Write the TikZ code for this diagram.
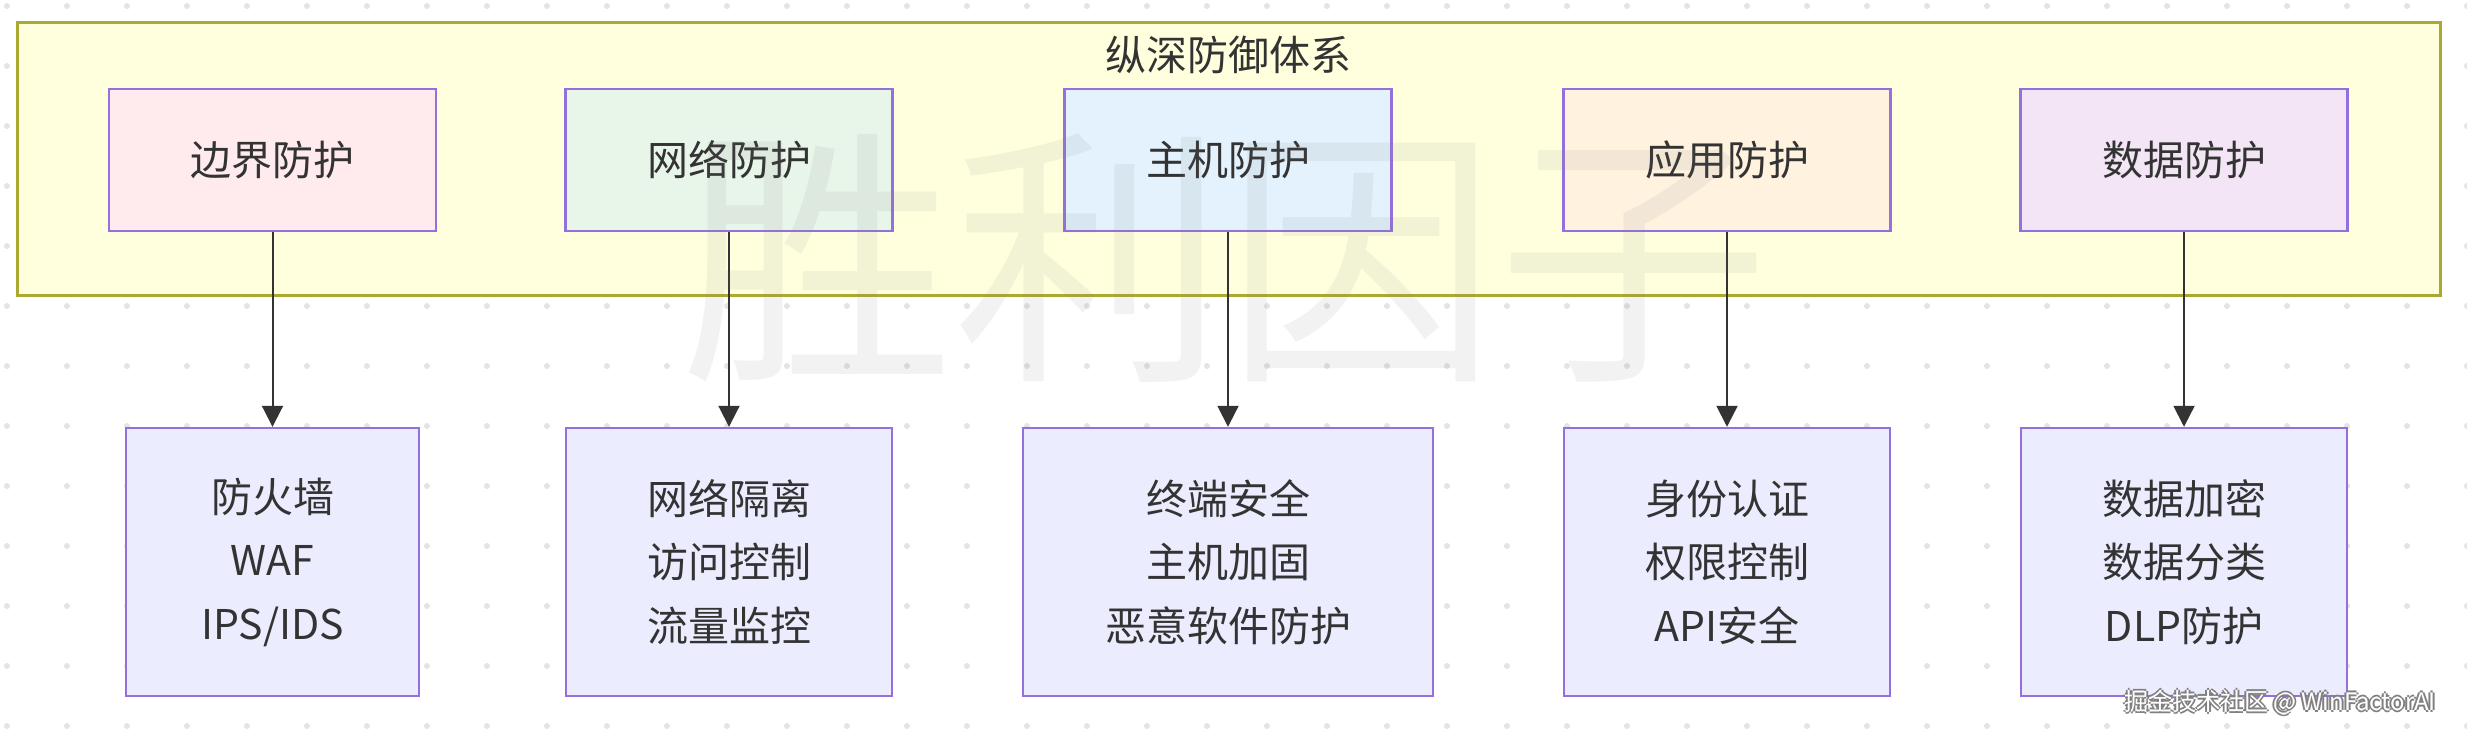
\documentclass[tikz,border=0pt]{standalone}
\usepackage{fontspec}
\setmainfont{Noto Sans CJK SC}
\usetikzlibrary{arrows.meta}
\definecolor{txt}{HTML}{333333}
\definecolor{cfill}{HTML}{FFFFDE}
\definecolor{cdraw}{HTML}{AAAA33}
\definecolor{bdraw}{HTML}{9370DB}
\definecolor{bfill}{HTML}{ECECFF}
\definecolor{fpink}{HTML}{FFEBEE}
\definecolor{fgreen}{HTML}{E8F5E9}
\definecolor{fblue}{HTML}{E3F2FD}
\definecolor{forange}{HTML}{FFF3E0}
\definecolor{fpurple}{HTML}{F3E5F5}
\definecolor{dotc}{HTML}{E4E4E4}
\begin{document}
\begin{tikzpicture}[x=0.5pt,y=-0.5pt,
  every node/.style={font=\fontsize{20.5pt}{31.75pt}\selectfont, text=txt},
  container/.style={draw=cdraw, fill=cfill, line width=1.5pt, minimum width=1211.5pt, minimum height=136.5pt, inner sep=0pt},
  topbox/.style={draw=bdraw, line width=1.2pt, minimum width=163.5pt, minimum height=71pt, inner sep=0pt},
  botbox/.style={draw=bdraw, fill=bfill, line width=1.2pt, minimum height=134pt, inner sep=0pt, align=center},
  conn/.style={draw=txt, line width=1pt, -{Triangle[length=10.5pt,width=10.5pt]}},
  wmark/.style={font=\fontsize{12pt}{12pt}\selectfont, inner sep=0pt}]
\useasboundingbox[fill=white] (0,0) rectangle (2467,737);
% dotted background
\foreach \i in {0,...,41}{
  \foreach \j in {0,...,12}{
    \fill[dotc] (7+60*\i,6+60*\j) circle[radius=1.5pt];
  }
}
% container
\node[container] (sys) at (1228.5,159.5) {};
\node (title) at (1228,55) {纵深防御体系};
% top boxes
\node[topbox, fill=fpink]   (t1) at (272.5,160) {边界防护};
\node[topbox, fill=fgreen]  (t2) at (729,160)   {网络防护};
\node[topbox, fill=fblue]   (t3) at (1228,160)  {主机防护};
\node[topbox, fill=forange] (t4) at (1727,160)  {应用防护};
\node[topbox, fill=fpurple] (t5) at (2184,160)  {数据防护};
% bottom boxes
\node[botbox, minimum width=146.5pt] (b1) at (272.5,562) {防火墙\\WAF\\IPS/IDS};
\node[botbox, minimum width=163pt]   (b2) at (729,562)   {网络隔离\\访问控制\\流量监控};
\node[botbox, minimum width=205pt]   (b3) at (1228,562)  {终端安全\\主机加固\\恶意软件防护};
\node[botbox, minimum width=163pt]   (b4) at (1727,562)  {身份认证\\权限控制\\API安全};
\node[botbox, minimum width=163pt]   (b5) at (2184,562)  {数据加密\\数据分类\\DLP防护};
% connectors
\draw[conn] (t1.south) -- (b1.north);
\draw[conn] (t2.south) -- (b2.north);
\draw[conn] (t3.south) -- (b3.north);
\draw[conn] (t4.south) -- (b4.north);
\draw[conn] (t5.south) -- (b5.north);
% big watermark
\node[font=\fontsize{136pt}{136pt}\selectfont, text=gray, text opacity=0.1, inner sep=0pt] (wm) at (1225,258) {胜利因子};
% bottom-right watermark with outline
\node[wmark, text=gray] (s1) at (2280,700) {掘金技术社区 @ WinFactorAI};
\node[wmark, text=gray] (s2) at (2278,702) {掘金技术社区 @ WinFactorAI};
\node[wmark, text=gray] (s3) at (2280,704) {掘金技术社区 @ WinFactorAI};
\node[wmark, text=gray] (s4) at (2282,702) {掘金技术社区 @ WinFactorAI};
\node[wmark, text=white] (s0) at (2280,702) {掘金技术社区 @ WinFactorAI};
\end{tikzpicture}
\end{document}
